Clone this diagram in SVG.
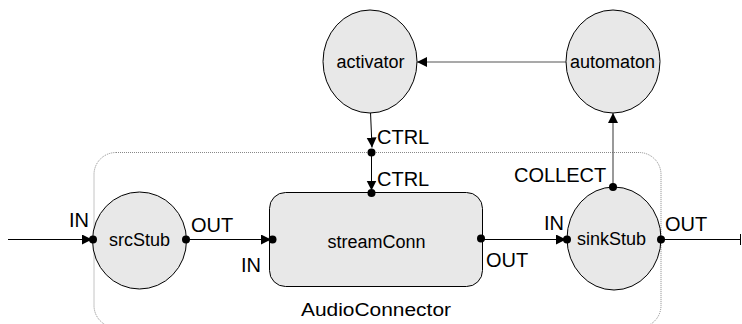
<svg xmlns="http://www.w3.org/2000/svg" width="742" height="324" viewBox="0 0 742 324">
  <style>
    .node { fill: #e8e8e8; stroke: #000; stroke-width: 1; }
    .name { font-family: "Liberation Sans", Arial, sans-serif; font-size: 18px; fill: #000; text-anchor: middle; }
    .lbl { font-family: "Liberation Sans", Arial, sans-serif; font-size: 20px; fill: #000; }
    .wire { fill: none; stroke: #000; stroke-width: 1; }
    .wire-grey { fill: none; stroke: #555; stroke-width: 1.2; }
    .port { fill: #000; }
    .frame { fill: none; stroke: #888; stroke-width: 1; stroke-dasharray: 1 1; }
  </style>
  <defs>
    <marker id="arrow" markerUnits="userSpaceOnUse" markerWidth="11" markerHeight="11" refX="10" refY="5" orient="auto">
      <path d="M0,0 L10,5 L0,10 z" fill="#000"/>
    </marker>
  </defs>

  <rect width="742" height="324" fill="#fff"/>

  <!-- AudioConnector boundary -->
  <g id="audioConnector">
    <rect class="frame" x="94" y="152.5" width="567" height="175" rx="22" ry="22"/>
    <text class="name" x="376" y="316" font-size="20" textLength="150" lengthAdjust="spacingAndGlyphs">AudioConnector</text>
  </g>

  <!-- connectors -->
  <g id="connectors">
    <line class="wire" x1="8" y1="239.5" x2="92" y2="239.5" marker-end="url(#arrow)"/>
    <line class="wire" x1="186" y1="239.5" x2="271" y2="239.5" marker-end="url(#arrow)"/>
    <line class="wire" x1="481" y1="239.5" x2="566" y2="239.5" marker-end="url(#arrow)"/>
    <line class="wire" x1="662" y1="239.5" x2="740" y2="239.5"/>
    <line class="wire" x1="740.5" y1="234" x2="740.5" y2="245" stroke-width="1.5"/>
    <line class="wire-grey" x1="613" y1="187" x2="613" y2="113" marker-end="url(#arrow)"/>
    <line class="wire-grey" x1="566" y1="62" x2="417" y2="62" marker-end="url(#arrow)"/>
    <line class="wire" x1="370.5" y1="112" x2="372" y2="147.5" marker-end="url(#arrow)"/>
    <line class="wire" x1="371.5" y1="153" x2="371.5" y2="190.5" marker-end="url(#arrow)"/>
    <circle class="port" cx="371.5" cy="152.5" r="4"/>
    <text class="lbl" x="377" y="144">CTRL</text>
  </g>

  <g id="activator">
    <ellipse class="node" cx="370" cy="61.5" rx="47" ry="51.5"/>
    <text class="name" x="370.5" y="68">activator</text>
  </g>

  <g id="automaton">
    <ellipse class="node" cx="613" cy="61.5" rx="47" ry="51.5"/>
    <text class="name" x="612.5" y="68">automaton</text>
  </g>

  <g id="srcStub">
    <ellipse class="node" cx="139.5" cy="240.5" rx="47" ry="48.5"/>
    <text class="name" x="139.5" y="246">srcStub</text>
    <circle class="port" cx="93" cy="239.5" r="4"/>
    <circle class="port" cx="186" cy="239.5" r="4"/>
    <text class="lbl" x="69" y="227">IN</text>
    <text class="lbl" x="191" y="232">OUT</text>
  </g>

  <g id="streamConn">
    <rect class="node" x="269.5" y="192.5" width="213" height="94" rx="16" ry="16"/>
    <text class="name" x="376.5" y="247.5">streamConn</text>
    <circle class="port" cx="272.5" cy="239.5" r="4"/>
    <circle class="port" cx="481" cy="238.5" r="4"/>
    <circle class="port" cx="371.5" cy="193" r="4"/>
    <text class="lbl" x="241" y="272">IN</text>
    <text class="lbl" x="486" y="267">OUT</text>
    <text class="lbl" x="377" y="186">CTRL</text>
  </g>

  <g id="sinkStub">
    <ellipse class="node" cx="614" cy="238.5" rx="47" ry="51.5"/>
    <text class="name" x="611.5" y="245">sinkStub</text>
    <circle class="port" cx="567" cy="239.5" r="4"/>
    <circle class="port" cx="661" cy="239.5" r="4"/>
    <circle class="port" cx="613" cy="187" r="4"/>
    <text class="lbl" x="544" y="230">IN</text>
    <text class="lbl" x="665" y="231">OUT</text>
    <text class="lbl" x="514" y="182">COLLECT</text>
  </g>
</svg>
